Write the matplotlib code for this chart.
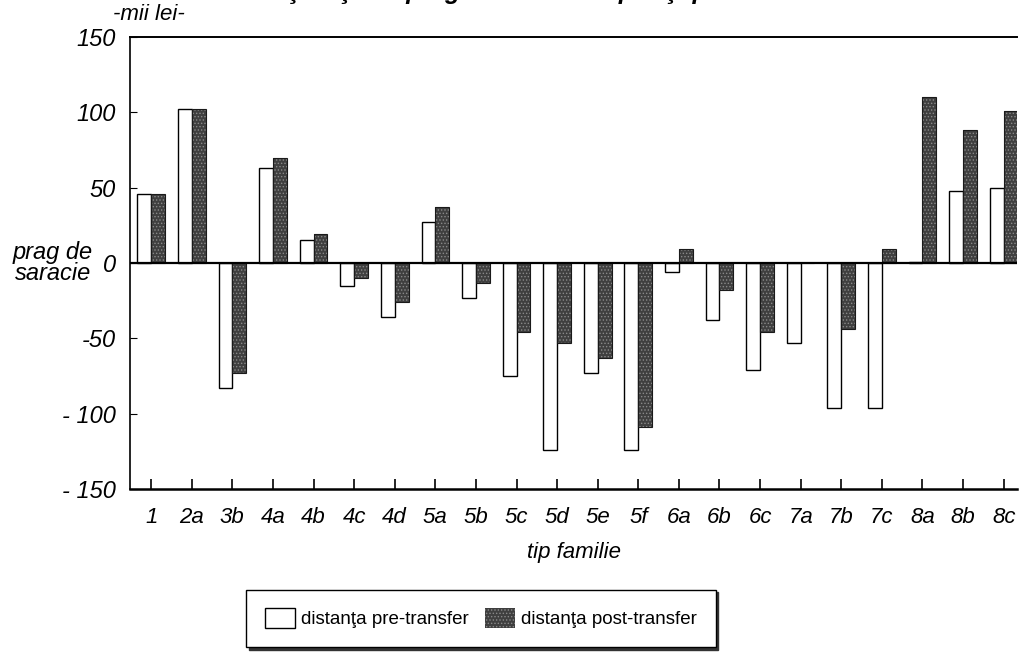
import numpy as np
import matplotlib
matplotlib.use("Agg")
import matplotlib.pyplot as plt

### data (mii lei)
familii = ['1', '2a', '3b', '4a', '4b', '4c', '4d', '5a', '5b', '5c', '5d',
           '5e', '5f', '6a', '6b', '6c', '7a', '7b', '7c', '8a', '8b', '8c']
pre_transfer = [46, 102, -83, 63, 15, -15, -36, 27, -23, -75, -124,
                -73, -124, -6, -38, -71, -53, -96, -96, 1, 48, 50]
post_transfer = [46, 102, -73, 70, 19, -10, -26, 37, -13, -46, -53,
                 -63, -109, 9, -18, -46, 0, -44, 9, 110, 88, 101]
y_ticks = [150, 100, 50, 0, -50, -100, -150]
y_labels = ['150', '100', '50', '0', '-50', '- 100', '- 150']

plt.rcParams['font.family'] = ['Liberation Sans', 'DejaVu Sans']
plt.rcParams['hatch.linewidth'] = 0.6

fig = plt.figure(figsize=(10.19, 6.55), dpi=100)
ax = fig.add_axes([0.1276, 0.2534, 0.8705, 0.6901])

x = np.arange(len(familii))
w = 0.34
ax.bar(x - w/2, pre_transfer, w, color='white', edgecolor='black', linewidth=1.0,
       label='distanţa pre-transfer')
ax.bar(x + w/2, post_transfer, w, color='#3f3f3f', edgecolor='#8a8a8a', hatch='.....',
       linewidth=0, label='distanţa post-transfer')
# outline for the dark bars
ax.bar(x + w/2, post_transfer, w, color='none', edgecolor='#1a1a1a', linewidth=0.8)

ax.axhline(0, color='black', linewidth=1.6)

ax.set_ylim(-150, 150)
ax.set_xlim(-0.52, 21.33)
ax.set_yticks(y_ticks)
ax.set_yticklabels(y_labels, fontsize=17, style='italic')
ax.set_xticks(x)
ax.set_xticklabels(familii, fontsize=16, style='italic')
ax.tick_params(axis='x', direction='in', length=7, width=1.2, pad=13)
ax.tick_params(axis='y', direction='in', length=5, width=0.8, pad=10)
ax.spines['right'].set_visible(False)
ax.spines['top'].set_linewidth(1.4)
ax.spines['bottom'].set_linewidth(1.8)
ax.spines['left'].set_linewidth(1.2)

ax.set_xlabel('tip familie', fontsize=16, style='italic', labelpad=10)

### extra texts around the axis
fig.text(0.111, 0.978, '-mii lei-', fontsize=16, style='italic', ha='left', va='center')
fig.text(0.052, 0.598, 'prag de\nsaracie', fontsize=17, style='italic', ha='center',
         va='center', linespacing=0.9)
# title is cut off at the top edge in the scan
fig.text(0.52, 1.012, 'Distanţa faţă de pragul de sărăcie pre şi post-transfer',
         fontsize=18, style='italic', fontweight='bold', ha='center', va='center')

leg = fig.legend(loc='center', bbox_to_anchor=(0.472, 0.056), ncol=2, fontsize=13.5,
                 frameon=True, fancybox=False, shadow={'color': '#333333', 'alpha': 1},
                 edgecolor='black', handlelength=1.6, handleheight=1.2,
                 columnspacing=0.9, borderpad=1.0, handletextpad=0.3)

fig.savefig('out.png', dpi=100)
